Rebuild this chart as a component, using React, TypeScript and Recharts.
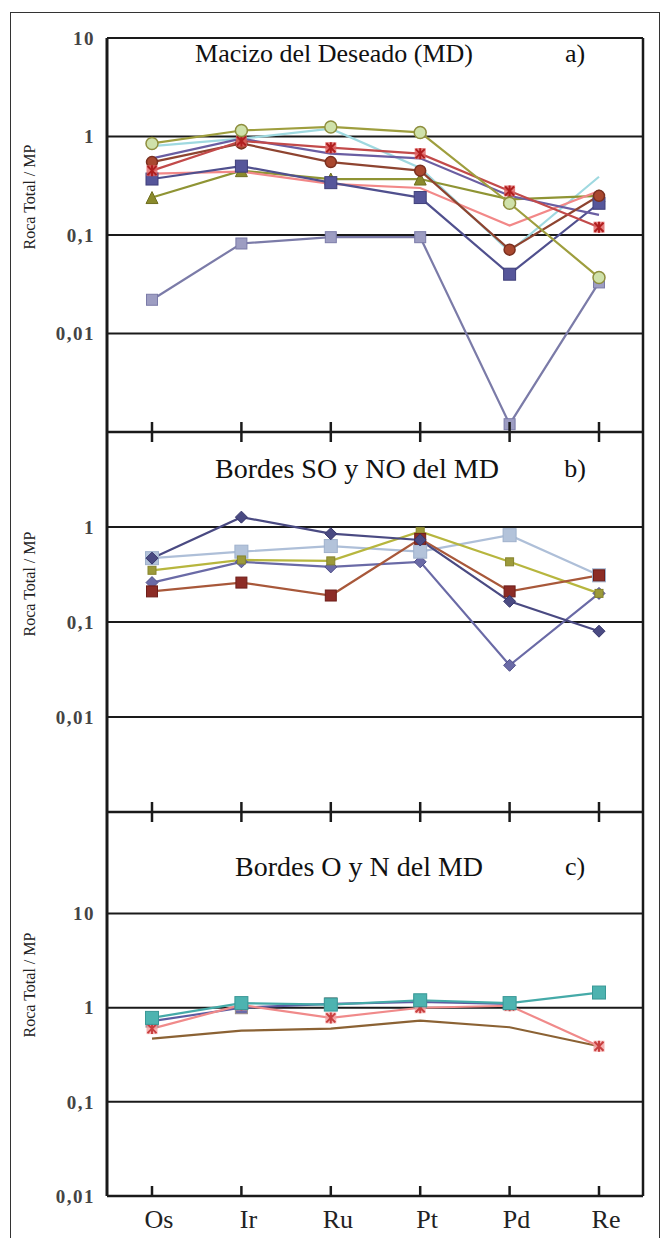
import React from 'react';
import { LineChart, Line, XAxis, YAxis, CartesianGrid } from 'recharts';

// ---------- categories ----------
const elements = ['Os', 'Ir', 'Ru', 'Pt', 'Pd', 'Re'];

// ---------- panel a) Macizo del Deseado ----------
const aLavenderSq = [0.022, 0.082, 0.095, 0.095, 0.0012, 0.033];
const aCyan = [0.8, 0.95, 1.2, 0.48, 0.068, 0.39];
const aOliveTri = [0.24, 0.45, 0.37, 0.37, 0.23, 0.25];
const aPink = [0.42, 0.44, 0.33, 0.3, 0.125, 0.28];
const aBlueSq = [0.37, 0.5, 0.34, 0.24, 0.04, 0.21];
const aPurple = [0.6, 0.95, 0.67, 0.6, 0.25, 0.16];
const aBrownCirc = [0.55, 0.85, 0.55, 0.45, 0.071, 0.25];
const aRedX = [0.45, 0.9, 0.77, 0.67, 0.28, 0.12];
const aOliveCirc = [0.85, 1.15, 1.25, 1.1, 0.21, 0.037];

// ---------- panel b) Bordes SO y NO ----------
const bDarkDiamond = [0.47, 1.27, 0.85, 0.73, 0.165, 0.08];
const bPurpleDiamond = [0.26, 0.43, 0.38, 0.43, 0.035, 0.2];
const bLightSq = [0.47, 0.55, 0.63, 0.55, 0.82, 0.31];
const bOlive = [0.35, 0.45, 0.44, 0.9, 0.43, 0.2];
const bBrownSq = [0.21, 0.26, 0.19, 0.75, 0.21, 0.31];

// ---------- panel c) Bordes O y N ----------
const cBrown = [0.47, 0.57, 0.6, 0.73, 0.62, 0.39];
const cPurpleSq = [0.72, 1.0, 1.1, 1.15, 1.1, null];
const cPinkX = [0.6, 1.07, 0.78, 1.0, 1.05, 0.39];
const cTealSq = [0.78, 1.12, 1.08, 1.2, 1.12, 1.45];

// ---------- axis ticks ----------
const ticksA = [0.01, 0.1, 1, 10];
const ticksB = [0.01, 0.1, 1];
const ticksC = [0.01, 0.1, 1, 10];
const tickText: Record<string, string> = { '0.01': '0,01', '0.1': '0,1', '1': '1', '10': '10' };

const dataA = elements.map((el, i) => ({
  el, lav: aLavenderSq[i], cyan: aCyan[i], oliveTri: aOliveTri[i], pink: aPink[i],
  blue: aBlueSq[i], purple: aPurple[i], brown: aBrownCirc[i], redx: aRedX[i], oliveCirc: aOliveCirc[i],
}));
const dataB = elements.map((el, i) => ({
  el, dark: bDarkDiamond[i], purple: bPurpleDiamond[i], light: bLightSq[i], olive: bOlive[i], brown: bBrownSq[i],
}));
const dataC = elements.map((el, i) => ({
  el, brown: cBrown[i], purple: cPurpleSq[i], pink: cPinkX[i], teal: cTealSq[i],
}));

const SERIF = '"Liberation Serif", "Times New Roman", serif';
const INK = '#1a1a1a';

type Shape = 'circle' | 'square' | 'triangle' | 'diamond' | 'x';
const makeDot = (shape: Shape, fill: string, stroke: string, size = 11) => (props: any) => {
  const { cx, cy, index, value } = props;
  if (cx == null || cy == null || isNaN(cy) || value == null) return <g key={index} />;
  const h = size / 2;
  switch (shape) {
    case 'circle':
      return <circle key={index} cx={cx} cy={cy} r={h} fill={fill} stroke={stroke} strokeWidth={1.5} />;
    case 'square':
      return <rect key={index} x={cx - h} y={cy - h} width={size} height={size} fill={fill} stroke={stroke} strokeWidth={1} />;
    case 'triangle':
      return <polygon key={index} points={`${cx},${cy - h} ${cx + h},${cy + h} ${cx - h},${cy + h}`} fill={fill} stroke={stroke} strokeWidth={1} />;
    case 'diamond':
      return <polygon key={index} points={`${cx},${cy - h} ${cx + h},${cy} ${cx},${cy + h} ${cx - h},${cy}`} fill={fill} stroke={stroke} strokeWidth={1} />;
    case 'x':
    default:
      return (
        <g key={index}>
          <rect x={cx - h} y={cy - h} width={size} height={size} fill={fill} opacity={0.8} />
          <path d={`M${cx - h + 1},${cy - h + 1} L${cx + h - 1},${cy + h - 1} M${cx + h - 1},${cy - h + 1} L${cx - h + 1},${cy + h - 1} M${cx},${cy - h} L${cx},${cy + h}`} stroke={stroke} strokeWidth={2} />
        </g>
      );
  }
};

const crossTick = (props: any) => {
  const { x, y, index } = props;
  return <line key={index} x1={x} x2={x} y1={y - 10} y2={y + 10} stroke={INK} strokeWidth={2.5} />;
};

const labelTick = (props: any) => {
  const { x, y, payload, index } = props;
  return (
    <g key={index}>
      <line x1={x} x2={x} y1={y - 10} y2={y} stroke={INK} strokeWidth={2.5} />
      <text x={x + 7} y={y + 32} textAnchor="middle" fontFamily={SERIF} fontSize={26} fill="#222">
        {payload.value}
      </text>
    </g>
  );
};

const yTitle = (cy: number) => () => (
  <text transform={`translate(29, ${cy}) rotate(-90)`} textAnchor="middle" dominantBaseline="central"
    fontFamily={SERIF} fontSize={16} fill="#222">
    Roca Total / MP
  </text>
);

const yTick = { fill: '#444', fontSize: 19, fontFamily: SERIF, fontWeight: 600, letterSpacing: 1.5 };
const fmt = (v: number) => tickText[String(v)] ?? String(v);

const commonX = {
  dataKey: 'el',
  padding: { left: 45, right: 44 },
  tickSize: 0,
  tickMargin: 0,
  interval: 0 as const,
  tickLine: false,
  axisLine: { stroke: INK, strokeWidth: 2.5 },
};

const rightAxis = (
  <YAxis yAxisId="r" orientation="right" width={29} type="number" domain={[0, 1]} tick={false} tickLine={false}
    axisLine={{ stroke: INK, strokeWidth: 2.5 }} />
);

const Title = ({ text, tag, cy, cx, size = 26 }: { text: string; tag: string; cy: number; cx: number; size?: number }) => (
  <>
    <div style={{ position: 'absolute', left: cx - 220, width: 440, top: cy - 16, lineHeight: '32px', textAlign: 'center',
      fontFamily: SERIF, fontSize: size, color: '#111', whiteSpace: 'nowrap' }}>{text}</div>
    <div style={{ position: 'absolute', left: 555, width: 40, top: cy - 16, lineHeight: '32px', textAlign: 'center',
      fontFamily: SERIF, fontSize: 26, color: '#111' }}>{tag}</div>
  </>
);

export default function App() {
  const line = (key: string, stroke: string, dot: any, w = 2.2, connect = true) => (
    <Line yAxisId="l" key={key} dataKey={key} stroke={stroke} strokeWidth={w} dot={dot} activeDot={false}
      isAnimationActive={false} connectNulls={connect} />
  );
  return (
    <div style={{ position: 'absolute', left: 0, top: 0, width: 672, height: 1238, background: '#fff', overflow: 'hidden' }}>
      <div style={{ position: 'absolute', left: 10, top: 12, width: 650, height: 1230, border: '1.5px solid #333', boxSizing: 'border-box' }} />

      {/* panel a */}
      <div style={{ position: 'absolute', left: 0, top: 0 }}>
        <LineChart width={672} height={452} data={dataA} margin={{ top: 38, right: 0, left: 0, bottom: 0 }}>
          <CartesianGrid yAxisId="l" vertical={false} stroke={INK} strokeWidth={2} />
          <XAxis {...commonX} height={20} tick={crossTick} />
          <YAxis yAxisId="l" type="number" scale="log" domain={[0.001, 10]} allowDataOverflow ticks={ticksA}
            width={107} tickSize={0} tickMargin={12} tickLine={false} tick={yTick} tickFormatter={fmt}
            axisLine={{ stroke: INK, strokeWidth: 3 }} label={yTitle(197)} />
          {rightAxis}
          {line('lav', '#7b7ba8', makeDot('square', '#9d9dc2', '#7b7ba8', 11))}
          {line('cyan', '#9fd9e0', false)}
          {line('oliveTri', '#8f9434', makeDot('triangle', '#8a8a2c', '#6f6f20', 12))}
          {line('pink', '#f28888', false)}
          {line('blue', '#50508e', makeDot('square', '#56569a', '#3f3f7a', 12))}
          {line('purple', '#6a5ea2', false)}
          {line('brown', '#8e4430', makeDot('circle', '#a9482f', '#7a3020', 11))}
          {line('redx', '#c24a4a', makeDot('x', '#e06262', '#b01e1e', 11))}
          {line('oliveCirc', '#9e9e3e', makeDot('circle', '#cfe1aa', '#8e8e3e', 12))}
        </LineChart>
      </div>

      {/* panel b */}
      <div style={{ position: 'absolute', left: 0, top: 422 }}>
        <LineChart width={672} height={410} data={dataB} margin={{ top: 10, right: 0, left: 0, bottom: 0 }}>
          <CartesianGrid yAxisId="l" vertical={false} stroke={INK} strokeWidth={2} />
          <XAxis {...commonX} height={20} tick={crossTick} />
          <YAxis yAxisId="l" type="number" scale="log" domain={[0.001, 10]} allowDataOverflow ticks={ticksB}
            width={107} tickSize={0} tickMargin={12} tickLine={false} tick={yTick} tickFormatter={fmt}
            axisLine={{ stroke: INK, strokeWidth: 3 }} label={yTitle(162)} />
          {rightAxis}
          {line('purple', '#6a6aa6', makeDot('diamond', '#6a6aa6', '#50508a', 12))}
          {line('light', '#aebfd8', makeDot('square', '#b3c3da', '#9fb1cc', 13))}
          {line('olive', '#b7b63e', makeDot('square', '#9c9a3a', '#86842e', 8))}
          {line('brown', '#a8583a', makeDot('square', '#8c2c26', '#6e1e1a', 11))}
          {line('dark', '#4a4a82', makeDot('diamond', '#4a4a82', '#35356a', 12))}
        </LineChart>
      </div>

      {/* panel c */}
      <div style={{ position: 'absolute', left: 0, top: 802 }}>
        <LineChart width={672} height={436} data={dataC} margin={{ top: 10, right: 0, left: 0, bottom: 0 }}>
          <CartesianGrid yAxisId="l" vertical={false} stroke={INK} strokeWidth={2} />
          <XAxis {...commonX} height={42} tick={labelTick} />
          <YAxis yAxisId="l" type="number" scale="log" domain={[0.01, 120]} allowDataOverflow ticks={ticksC}
            width={107} tickSize={0} tickMargin={12} tickLine={false} tick={yTick} tickFormatter={fmt}
            axisLine={{ stroke: INK, strokeWidth: 3 }} label={yTitle(183)} />
          {rightAxis}
          {line('brown', '#8b6234', false)}
          {line('purple', '#5c5ca2', makeDot('square', '#6a6aaa', '#9a8e88', 12), 2.2, false)}
          {line('pink', '#f08a8a', makeDot('x', '#f2a0a0', '#c84040', 11))}
          {line('teal', '#45aaa8', makeDot('square', '#4db3b0', '#3a9896', 13))}
        </LineChart>
      </div>

      <Title text="Macizo del Deseado (MD)" tag="a)" cy={54} cx={334} />
      <Title text="Bordes SO y NO del MD" tag="b)" cy={469} cx={357} size={28} />
      <Title text="Bordes O y N del MD" tag="c)" cy={867} cx={359} size={28} />
    </div>
  );
}
